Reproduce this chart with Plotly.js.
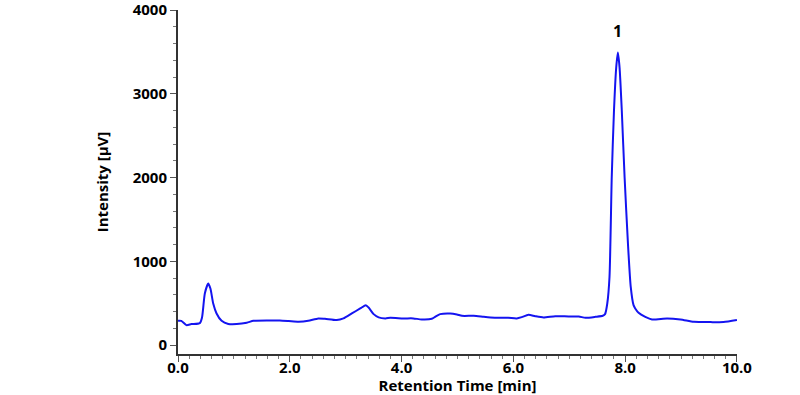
<!DOCTYPE html>
<html>
<head>
<meta charset="utf-8">
<script src="https://cdn.plot.ly/plotly-3.0.1.min.js"></script>
<style>html,body{margin:0;padding:0;background:#fff;}#chart{width:800px;height:395px;}</style>
</head>
<body>
<div id="chart"></div>
<script>
var retentionTime = [0.00,0.06,0.15,0.24,0.39,0.43,0.48,0.54,0.58,0.63,0.69,0.78,0.90,1.05,1.23,1.35,1.59,1.82,1.98,2.16,2.33,2.51,2.63,2.84,2.96,3.11,3.26,3.36,3.41,3.50,3.59,3.71,3.80,4.03,4.21,4.36,4.54,4.60,4.69,4.87,4.99,5.08,5.29,5.47,5.59,5.74,5.91,6.06,6.15,6.27,6.39,6.54,6.75,6.99,7.17,7.29,7.47,7.60,7.64,7.68,7.72,7.76,7.80,7.84,7.87,7.90,7.94,7.99,8.05,8.10,8.15,8.18,8.24,8.36,8.48,8.75,8.99,9.23,9.53,9.76,10.00];
var intensity = [290,289,238,250,262,330,615,734,675,496,377,289,252,250,266,289,294,292,286,278,289,318,313,298,318,377,437,476,448,369,330,318,325,318,318,306,313,337,369,377,365,349,349,337,330,325,325,318,333,361,345,330,345,341,341,325,337,350,369,496,813,2004,2798,3313,3492,3313,2798,2004,1211,694,476,437,385,337,306,318,306,278,274,274,298];
var peakLabels = ["1"];
var peakTimes = [7.87];
var peakHeights = [3492];

var fontFam = "'Open Sans', 'DejaVu Sans', sans-serif";
var trace = {
  x: retentionTime, y: intensity, type: 'scatter', mode: 'lines',
  line: {color: '#1414F0', width: 2, shape: 'spline', smoothing: 0.6}, hoverinfo: 'none'
};
var annotations = peakLabels.map(function(t, i){
  return {x: peakTimes[i], y: peakHeights[i], xref:'x', yref:'y', text: t, showarrow:false,
    yanchor:'bottom', yshift: 9, font:{family: fontFam, size: 16, color:'#000', weight: 'bold'}};
});
var axisCommon = {
  showgrid:false, zeroline:false, showline:true, linecolor:'#333', linewidth:2,
  ticks:'outside', ticklen:6, tickwidth:1, tickcolor:'#555',
  ticklabeloverflow:'allow',
  tickfont:{family: fontFam, size: 15, color:'#000', weight:'bold'}
};
var layout = {
  width:800, height:395, paper_bgcolor:'#fff', plot_bgcolor:'#fff',
  margin:{l:178, r:63, t:10, b:41},
  showlegend:false,
  xaxis: Object.assign({}, axisCommon, {
    range:[0,10.001], dtick:2, tick0:0, tickformat:'.1f',
    ticklabelstandoff:-7,
    minor:{dtick:0.2, ticks:'outside', ticklen:3, tickcolor:'#777'},
    title:{text:'Retention Time [min]', standoff:0, font:{family: fontFam, size:15, color:'#000', weight:'bold'}},
    automargin:false
  }),
  yaxis: Object.assign({}, axisCommon, {
    range:[-107,4001], dtick:1000, tick0:0,
    minor:{dtick:200, ticks:'outside', ticklen:3, tickcolor:'#777'},
    title:{text:'Intensity [µV]', standoff:20, font:{family: fontFam, size:15, color:'#000', weight:'bold'}},
    automargin:false
  }),
  annotations: annotations
};
Plotly.newPlot('chart', [trace], layout, {displayModeBar:false, staticPlot:true});
</script>
</body>
</html>
